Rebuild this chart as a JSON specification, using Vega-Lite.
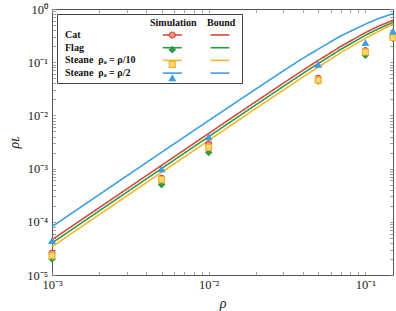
{
  "$schema": "https://vega.github.io/schema/vega-lite/v6.json",
  "width": 341,
  "height": 266,
  "autosize": {"type": "none"},
  "padding": {"left": 52, "top": 9, "right": 3, "bottom": 36},
  "background": "white",
  "config": {
    "view": {"stroke": "#555", "strokeWidth": 1},
    "font": "Liberation Serif",
    "axis": {"domain": false, "grid": false, "tickColor": "#888", "tickWidth": 0.8, "tickSize": -3.5, "labelFont": "Liberation Serif", "labelFontSize": 12.5, "labelColor": "#222", "titleFont": "Liberation Serif", "titleFontWeight": "normal", "titleColor": "#222", "labelOverlap": false, "labelFlush": false},
    "legend": {"titleFont": "Liberation Serif", "titleFontSize": 10, "titleFontWeight": "bold", "titleColor": "#111", "titlePadding": 2, "titleLimit": 400, "labelFont": "Liberation Serif", "labelFontSize": 10, "labelFontWeight": "bold", "labelColor": "#111", "labelLimit": 300, "rowPadding": 2.7, "padding": 4}
  },
  "datasets": {
    "bound": [
      {"rho": 0.001, "value": 0.000046, "series": "Cat"},
      {"rho": 0.002, "value": 0.000184, "series": "Cat"},
      {"rho": 0.003, "value": 0.000414, "series": "Cat"},
      {"rho": 0.005, "value": 0.00115, "series": "Cat"},
      {"rho": 0.007, "value": 0.00225, "series": "Cat"},
      {"rho": 0.01, "value": 0.00459, "series": "Cat"},
      {"rho": 0.015, "value": 0.0103, "series": "Cat"},
      {"rho": 0.02, "value": 0.0182, "series": "Cat"},
      {"rho": 0.03, "value": 0.0405, "series": "Cat"},
      {"rho": 0.04, "value": 0.0708, "series": "Cat"},
      {"rho": 0.05, "value": 0.108, "series": "Cat"},
      {"rho": 0.07, "value": 0.2, "series": "Cat"},
      {"rho": 0.1, "value": 0.36, "series": "Cat"},
      {"rho": 0.12, "value": 0.47, "series": "Cat"},
      {"rho": 0.15, "value": 0.615, "series": "Cat"},
      {"rho": 0.001, "value": 0.00004, "series": "Flag"},
      {"rho": 0.002, "value": 0.00016, "series": "Flag"},
      {"rho": 0.003, "value": 0.00036, "series": "Flag"},
      {"rho": 0.005, "value": 0.001, "series": "Flag"},
      {"rho": 0.007, "value": 0.00196, "series": "Flag"},
      {"rho": 0.01, "value": 0.00399, "series": "Flag"},
      {"rho": 0.015, "value": 0.00895, "series": "Flag"},
      {"rho": 0.02, "value": 0.0158, "series": "Flag"},
      {"rho": 0.03, "value": 0.0352, "series": "Flag"},
      {"rho": 0.04, "value": 0.0618, "series": "Flag"},
      {"rho": 0.05, "value": 0.0945, "series": "Flag"},
      {"rho": 0.07, "value": 0.176, "series": "Flag"},
      {"rho": 0.1, "value": 0.32, "series": "Flag"},
      {"rho": 0.12, "value": 0.42, "series": "Flag"},
      {"rho": 0.15, "value": 0.56, "series": "Flag"},
      {"rho": 0.001, "value": 0.000034, "series": "Steane\u00a0\u00a0ρₐ = ρ/10"},
      {"rho": 0.002, "value": 0.000136, "series": "Steane\u00a0\u00a0ρₐ = ρ/10"},
      {"rho": 0.003, "value": 0.000306, "series": "Steane\u00a0\u00a0ρₐ = ρ/10"},
      {"rho": 0.005, "value": 0.00085, "series": "Steane\u00a0\u00a0ρₐ = ρ/10"},
      {"rho": 0.007, "value": 0.00166, "series": "Steane\u00a0\u00a0ρₐ = ρ/10"},
      {"rho": 0.01, "value": 0.00339, "series": "Steane\u00a0\u00a0ρₐ = ρ/10"},
      {"rho": 0.015, "value": 0.0076, "series": "Steane\u00a0\u00a0ρₐ = ρ/10"},
      {"rho": 0.02, "value": 0.0135, "series": "Steane\u00a0\u00a0ρₐ = ρ/10"},
      {"rho": 0.03, "value": 0.03, "series": "Steane\u00a0\u00a0ρₐ = ρ/10"},
      {"rho": 0.04, "value": 0.0528, "series": "Steane\u00a0\u00a0ρₐ = ρ/10"},
      {"rho": 0.05, "value": 0.081, "series": "Steane\u00a0\u00a0ρₐ = ρ/10"},
      {"rho": 0.07, "value": 0.152, "series": "Steane\u00a0\u00a0ρₐ = ρ/10"},
      {"rho": 0.1, "value": 0.28, "series": "Steane\u00a0\u00a0ρₐ = ρ/10"},
      {"rho": 0.12, "value": 0.375, "series": "Steane\u00a0\u00a0ρₐ = ρ/10"},
      {"rho": 0.15, "value": 0.52, "series": "Steane\u00a0\u00a0ρₐ = ρ/10"},
      {"rho": 0.001, "value": 0.000081, "series": "Steane\u00a0\u00a0ρₐ = ρ/2"},
      {"rho": 0.002, "value": 0.000324, "series": "Steane\u00a0\u00a0ρₐ = ρ/2"},
      {"rho": 0.003, "value": 0.00073, "series": "Steane\u00a0\u00a0ρₐ = ρ/2"},
      {"rho": 0.005, "value": 0.00202, "series": "Steane\u00a0\u00a0ρₐ = ρ/2"},
      {"rho": 0.007, "value": 0.00395, "series": "Steane\u00a0\u00a0ρₐ = ρ/2"},
      {"rho": 0.01, "value": 0.008, "series": "Steane\u00a0\u00a0ρₐ = ρ/2"},
      {"rho": 0.015, "value": 0.0178, "series": "Steane\u00a0\u00a0ρₐ = ρ/2"},
      {"rho": 0.02, "value": 0.0313, "series": "Steane\u00a0\u00a0ρₐ = ρ/2"},
      {"rho": 0.03, "value": 0.069, "series": "Steane\u00a0\u00a0ρₐ = ρ/2"},
      {"rho": 0.04, "value": 0.119, "series": "Steane\u00a0\u00a0ρₐ = ρ/2"},
      {"rho": 0.05, "value": 0.176, "series": "Steane\u00a0\u00a0ρₐ = ρ/2"},
      {"rho": 0.07, "value": 0.315, "series": "Steane\u00a0\u00a0ρₐ = ρ/2"},
      {"rho": 0.1, "value": 0.52, "series": "Steane\u00a0\u00a0ρₐ = ρ/2"},
      {"rho": 0.12, "value": 0.655, "series": "Steane\u00a0\u00a0ρₐ = ρ/2"},
      {"rho": 0.15, "value": 0.815, "series": "Steane\u00a0\u00a0ρₐ = ρ/2"}
    ],
    "sim": [
      {"rho": 0.001, "value": 0.000026, "series": "Cat"},
      {"rho": 0.005, "value": 0.00066, "series": "Cat"},
      {"rho": 0.01, "value": 0.0029, "series": "Cat"},
      {"rho": 0.05, "value": 0.05, "series": "Cat"},
      {"rho": 0.1, "value": 0.165, "series": "Cat"},
      {"rho": 0.15, "value": 0.31, "series": "Cat"},
      {"rho": 0.001, "value": 0.00002, "series": "Flag"},
      {"rho": 0.005, "value": 0.0005, "series": "Flag"},
      {"rho": 0.01, "value": 0.002, "series": "Flag"},
      {"rho": 0.05, "value": 0.044, "series": "Flag"},
      {"rho": 0.1, "value": 0.135, "series": "Flag"},
      {"rho": 0.15, "value": 0.28, "series": "Flag"},
      {"rho": 0.001, "value": 0.000023, "series": "Steane\u00a0\u00a0ρₐ = ρ/10"},
      {"rho": 0.005, "value": 0.00062, "series": "Steane\u00a0\u00a0ρₐ = ρ/10"},
      {"rho": 0.01, "value": 0.0025, "series": "Steane\u00a0\u00a0ρₐ = ρ/10"},
      {"rho": 0.05, "value": 0.046, "series": "Steane\u00a0\u00a0ρₐ = ρ/10"},
      {"rho": 0.1, "value": 0.155, "series": "Steane\u00a0\u00a0ρₐ = ρ/10"},
      {"rho": 0.15, "value": 0.29, "series": "Steane\u00a0\u00a0ρₐ = ρ/10"},
      {"rho": 0.001, "value": 0.000044, "series": "Steane\u00a0\u00a0ρₐ = ρ/2"},
      {"rho": 0.005, "value": 0.00098, "series": "Steane\u00a0\u00a0ρₐ = ρ/2"},
      {"rho": 0.01, "value": 0.0039, "series": "Steane\u00a0\u00a0ρₐ = ρ/2"},
      {"rho": 0.05, "value": 0.09, "series": "Steane\u00a0\u00a0ρₐ = ρ/2"},
      {"rho": 0.1, "value": 0.23, "series": "Steane\u00a0\u00a0ρₐ = ρ/2"},
      {"rho": 0.15, "value": 0.38, "series": "Steane\u00a0\u00a0ρₐ = ρ/2"}
    ]
  },
  "resolve": {"scale": {"stroke": "independent", "fill": "independent", "shape": "independent"}},
  "layer": [
    {
      "data": {"name": "bound"},
      "mark": {"type": "line", "strokeWidth": 1.6},
      "encoding": {
        "x": {"field": "rho", "type": "quantitative", "scale": {"type": "log", "domain": [0.001, 0.15], "nice": false},
          "axis": {"orient": "bottom", "values": [0.001,0.002,0.003,0.004,0.005,0.006,0.007,0.008,0.009,0.01,0.02,0.03,0.04,0.05,0.06,0.07,0.08,0.09,0.1],
            "labelExpr": "datum.value == 0.001 ? '10⁻³' : datum.value == 0.01 ? '10⁻²' : datum.value == 0.1 ? '10⁻¹' : ''",
            "labelPadding": 7, "title": "ρ", "titleFontStyle": "italic", "titleFontSize": 14, "titlePadding": 5}},
        "y": {"field": "value", "type": "quantitative", "scale": {"type": "log", "domain": [0.00001, 1], "nice": false},
          "axis": {"orient": "left", "values": [0.00001,0.00002,0.00003,0.00004,0.00005,0.00006,0.00007,0.00008,0.00009,0.0001,0.0002,0.0003,0.0004,0.0005,0.0006,0.0007,0.0008,0.0009,0.001,0.002,0.003,0.004,0.005,0.006,0.007,0.008,0.009,0.01,0.02,0.03,0.04,0.05,0.06,0.07,0.08,0.09,0.1,0.2,0.3,0.4,0.5,0.6,0.7,0.8,0.9,1],
            "labelExpr": "datum.value == 1 ? '10⁰' : datum.value == 0.1 ? '10⁻¹' : datum.value == 0.01 ? '10⁻²' : datum.value == 0.001 ? '10⁻³' : datum.value == 0.0001 ? '10⁻⁴' : datum.value == 0.00001 ? '10⁻⁵' : ''",
            "labelPadding": 8, "title": "ρʟ", "titleFontStyle": "italic", "titleFontSize": 14, "titlePadding": 5}},
        "color": {"field": "series", "type": "nominal", "scale": {"range": ["#d64a3b", "#2e9a4b", "#f2b62a", "#3d9ee0"]},
          "legend": {"orient": "none", "legendX": 151, "legendY": 5, "title": "Bound", "labelExpr": "' '", "labelOffset": 4, "symbolType": "M-3,0H3", "symbolSize": 40, "symbolStrokeWidth": 1.6, "symbolOffset": 8, "zindex": 1}},
        "strokeDash": {"field": "series", "type": "nominal", "scale": {"range": [[1, 0], [1, 0], [1, 0], [1, 0]]},
          "legend": {"orient": "top-left", "offset": 5, "title": " ", "labelOffset": -177, "symbolType": "circle", "symbolSize": 4, "symbolStrokeWidth": 0, "symbolOpacity": 0, "symbolOffset": 171, "strokeColor": "#444", "fillColor": "white", "zindex": 0}}
      }
    },
    {
      "data": {"name": "sim"},
      "mark": {"type": "point", "filled": true, "size": 34, "strokeWidth": 1.2, "opacity": 1},
      "encoding": {
        "x": {"field": "rho", "type": "quantitative", "scale": {"type": "log", "domain": [0.001, 0.15], "nice": false}, "axis": null},
        "y": {"field": "value", "type": "quantitative", "scale": {"type": "log", "domain": [0.00001, 1], "nice": false}, "axis": null},
        "shape": {"field": "series", "type": "nominal", "scale": {"range": ["circle", "diamond", "square", "triangle-up"]},
          "legend": {"orient": "none", "legendX": 94, "legendY": 5, "title": "Simulation", "labelExpr": "' '", "labelOffset": 4, "symbolSize": 36, "symbolStrokeWidth": 1.2, "symbolOffset": 17.3, "zindex": 2}},
        "fill": {"field": "series", "type": "nominal", "scale": {"range": ["#ef9488", "#2e9a4b", "#f8d57a", "#3d9ee0"]},
          "legend": {"orient": "none", "legendX": 94, "legendY": 5, "title": "Simulation", "labelExpr": "' '", "labelOffset": 4, "symbolSize": 36, "symbolStrokeWidth": 1.2, "symbolOffset": 17.3, "zindex": 2}},
        "stroke": {"field": "series", "type": "nominal", "scale": {"range": ["#d64a3b", "#2e9a4b", "#f2b62a", "#3d9ee0"]},
          "legend": {"orient": "none", "legendX": 94, "legendY": 5, "title": "Simulation", "labelExpr": "' '", "labelOffset": 4, "symbolSize": 36, "symbolStrokeWidth": 1.2, "symbolOffset": 17.3, "zindex": 2}}
      }
    },
    {
      "data": {"name": "sim"},
      "transform": [{"filter": "datum.value > 0"}],
      "mark": {"type": "rule", "strokeWidth": 1.6},
      "encoding": {
        "x": {"field": "rho", "type": "quantitative", "scale": {"type": "log", "domain": [0.001, 0.15], "nice": false},
          "axis": {"orient": "top", "values": [0.001,0.002,0.003,0.004,0.005,0.006,0.007,0.008,0.009,0.01,0.02,0.03,0.04,0.05,0.06,0.07,0.08,0.09,0.1], "labels": false, "title": null}},
        "y": {"field": "value", "type": "quantitative", "scale": {"type": "log", "domain": [0.00001, 1], "nice": false},
          "axis": {"orient": "right", "values": [0.00001,0.00002,0.00003,0.00004,0.00005,0.00006,0.00007,0.00008,0.00009,0.0001,0.0002,0.0003,0.0004,0.0005,0.0006,0.0007,0.0008,0.0009,0.001,0.002,0.003,0.004,0.005,0.006,0.007,0.008,0.009,0.01,0.02,0.03,0.04,0.05,0.06,0.07,0.08,0.09,0.1,0.2,0.3,0.4,0.5,0.6,0.7,0.8,0.9,1], "labels": false, "title": null}},
        "y2": {"field": "value"},
        "stroke": {"field": "series", "type": "nominal", "scale": {"range": ["#d64a3b", "#2e9a4b", "#f2b62a", "#3d9ee0"]},
          "legend": {"orient": "none", "legendX": 94, "legendY": 5, "title": " ", "labelExpr": "' '", "labelOffset": 4, "symbolType": "M-3,0H3", "symbolSize": 40, "symbolStrokeWidth": 1.6, "symbolOffset": 17.3, "zindex": 1}}
      }
    }
  ]
}
